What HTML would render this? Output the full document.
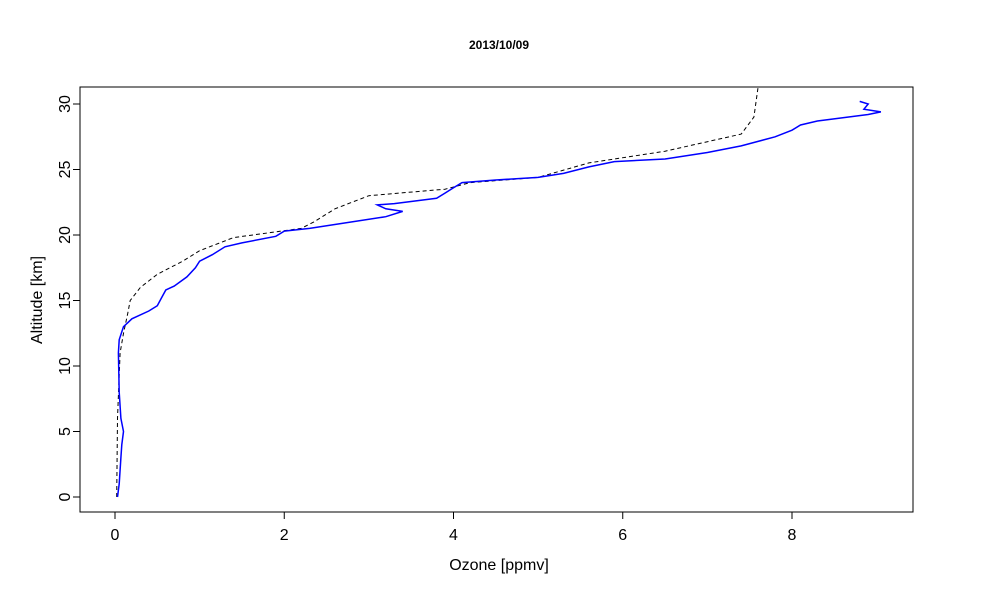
<!DOCTYPE html>
<html><head><meta charset="utf-8"><style>
body{margin:0;background:#fff}
svg{display:block;font-family:"Liberation Sans",sans-serif}
</style></head><body>
<svg id="chart" width="1000" height="600">
<rect width="1000" height="600" fill="#fff"/>
<text x="499" y="49" text-anchor="middle" font-size="12" font-weight="bold">2013/10/09</text>
<rect x="80" y="87" width="833" height="425" fill="none" stroke="#000"/>
<text x="499" y="570" text-anchor="middle" font-size="16">Ozone [ppmv]</text>
<text transform="translate(42,300) rotate(-90)" text-anchor="middle" font-size="16">Altitude [km]</text>
<g id="axes"></g>
<g id="series"></g>
</svg>
<script>
const xTicks=[0,2,4,6,8];
const yTicks=[0,5,10,15,20,25,30];
const ozoneBlue=[0.03,0.05,0.07,0.08,0.1,0.07,0.05,0.04,0.05,0.1,0.2,0.4,0.5,0.55,0.6,0.7,0.85,0.95,1.0,1.15,1.3,1.5,1.9,2.0,2.3,2.8,3.2,3.4,3.2,3.1,3.3,3.8,3.9,4.0,4.1,4.5,5.0,5.3,5.6,5.9,6.5,7.0,7.4,7.8,8.0,8.1,8.3,8.9,9.05,8.85,8.9,8.8];
const altBlue=[0,1,3,4,5,6,8,11,12,13,13.6,14.2,14.6,15.2,15.8,16.1,16.8,17.5,18,18.5,19.1,19.4,19.9,20.3,20.5,21,21.4,21.8,22,22.3,22.4,22.8,23.2,23.6,24,24.2,24.4,24.7,25.2,25.6,25.8,26.3,26.8,27.5,28,28.4,28.7,29.2,29.4,29.6,30,30.2];
const ozoneRef=[0.02,0.03,0.06,0.1,0.15,0.18,0.3,0.5,0.8,1.0,1.4,2.2,2.35,2.6,3.0,3.9,4.2,5.0,5.6,6.5,7.4,7.55,7.6];
const altRef=[0,6,11,12.5,14,15,16,17,18,18.8,19.8,20.5,21,22,23,23.5,24,24.4,25.5,26.4,27.7,29,31.5];
const NS="http://www.w3.org/2000/svg";
const sx=v=>115+v*84.625, sy=v=>497-v*13.1;
const axes=document.getElementById('axes'), series=document.getElementById('series');
function mk(tag,attrs,parent){const e=document.createElementNS(NS,tag);for(const k in attrs)e.setAttribute(k,attrs[k]);parent.appendChild(e);return e;}
mk('line',{x1:sx(0),x2:sx(8),y1:512,y2:512,stroke:'#000'},axes);
xTicks.forEach(t=>{
 const l=mk('line',{x1:sx(t),x2:sx(t),y1:512,y2:519,stroke:'#000'},axes);
 
 
 const tx=mk('text',{x:sx(t),y:540,'text-anchor':'middle','font-size':16},axes);tx.textContent=t;
 
 
});
mk('line',{x1:80,x2:80,y1:sy(0),y2:sy(30),stroke:'#000'},axes);
yTicks.forEach(t=>{
 const l=mk('line',{x1:73,x2:80,y1:sy(t),y2:sy(t),stroke:'#000'},axes);
 
 
 const tx=mk('text',{x:0,y:0,'text-anchor':'middle','font-size':16,transform:`translate(70,${sy(t)}) rotate(-90)`},axes);tx.textContent=t;
 
 
});
const pts=(xs,ys)=>xs.map((v,i)=>sx(v).toFixed(1)+','+Math.max(87,sy(ys[i])).toFixed(1)).join(' ');
const ref=mk('polyline',{points:pts(ozoneRef,altRef),fill:'none',stroke:'#000','stroke-dasharray':'4,3'},series);


const meas=mk('polyline',{points:pts(ozoneBlue,altBlue),fill:'none',stroke:'#0000ff','stroke-width':1.5},series);


</script>
</body></html>
